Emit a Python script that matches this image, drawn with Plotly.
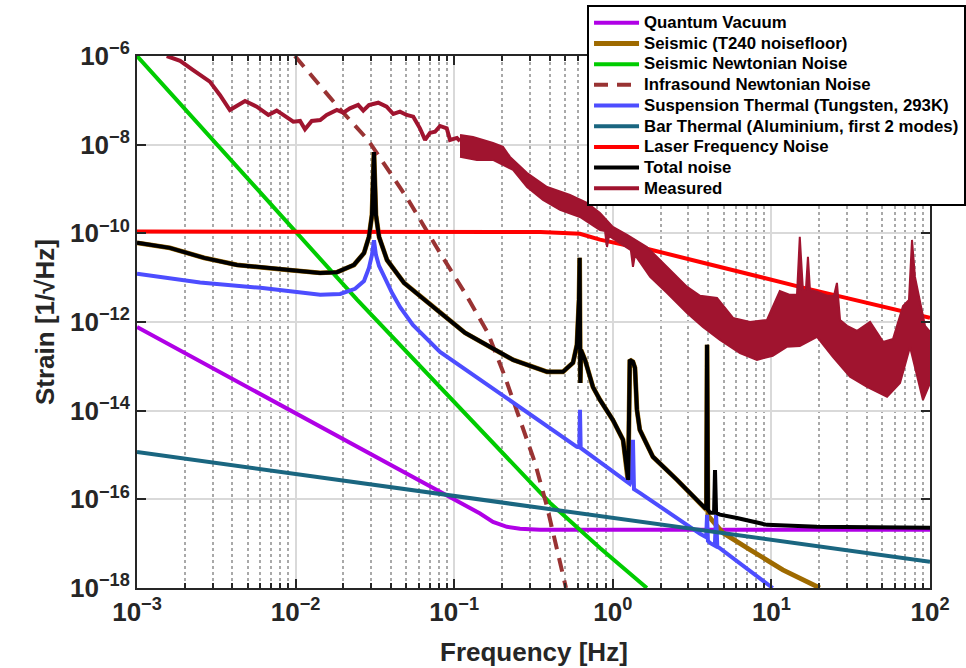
import plotly.graph_objects as go

# ---------------- data ----------------
qv_f = [1e-3, 0.12, 0.1455, 0.1756, 0.215, 0.26, 0.3475, 100]
qv_h = [7.7e-13, 6.8e-17, 4.8e-17, 3.11e-17, 2.4e-17, 2.16e-17, 2.05e-17, 2.05e-17]

seis_f = [1e-3, 1.61e-3, 2.65e-3, 4.27e-3, 8.83e-3, 1.426e-2, 1.824e-2, 2.334e-2, 2.70e-2, 2.90e-2,
          3.03e-2, 3.12e-2, 3.21e-2, 3.36e-2, 3.77e-2, 4.83e-2, 7.79e-2, 0.117, 0.235, 0.385,
          0.485, 0.561, 0.594, 0.612, 0.618, 0.624, 0.630, 0.668, 0.750, 0.83,
          1.0, 1.16, 1.21, 1.25, 1.28, 1.34, 1.38, 1.42, 1.48, 1.79,
          2.54, 3.55, 3.81, 3.89, 3.93, 3.98, 4.10, 4.95, 7.33, 11.8, 20.2]
seis_h = [6.1e-11, 4.7e-11, 2.8e-11, 1.94e-11, 1.5e-11, 1.28e-11, 1.33e-11, 1.94e-11, 3.6e-11, 8.3e-11,
          2.6e-10, 6.8e-9, 2.6e-10, 8.3e-11, 2.5e-11, 7.6e-12, 1.87e-12, 5.7e-13, 1.4e-13, 7.5e-14,
          7.5e-14, 1.2e-13, 3.05e-13, 3.15e-12, 2.8e-11, 4.2e-14, 2.35e-13, 1.4e-13, 3.4e-14, 1.75e-14,
          6.2e-15, 2.2e-15, 7.8e-16, 2.4e-16, 1.4e-13, 1.26e-13, 9.2e-14, 1.04e-14, 3.7e-15, 9.1e-16,
          2.75e-16, 8.3e-17, 6.0e-17, 5.8e-17, 3.05e-13, 4.2e-17, 3.8e-17, 1.76e-17, 7.3e-18, 2.57e-18, 1.0e-18]

snn_f = [1e-3, 0.0244, 0.402, 0.83, 1.64]
snn_h = [1e-6, 3.2e-12, 8.3e-17, 8.0e-18, 1.0e-18]

inf_f = [0.0099, 0.0185, 0.0286, 0.0504, 0.0814, 0.117, 0.163, 0.209, 0.26, 0.323, 0.385, 0.445, 0.507]
inf_h = [1.0e-6, 7.1e-8, 1.28e-8, 6.3e-10, 3.6e-11, 4.5e-12, 5.7e-13, 5.8e-14, 6.2e-15, 6.7e-16,
         6.8e-17, 7.3e-18, 1.0e-18]

susp_f = [1e-3, 2.5e-3, 6.0e-3, 1.43e-2, 1.91e-2, 2.37e-2, 2.70e-2, 2.90e-2, 3.03e-2, 3.12e-2,
          3.21e-2, 3.36e-2, 3.61e-2, 4.06e-2, 4.55e-2, 5.49e-2, 8.14e-2, 0.235, 0.594, 0.615,
          0.621, 0.627, 1.28, 1.32, 1.34, 1.36, 1.48, 3.55, 3.81, 3.88,
          3.93, 3.98, 4.10, 4.40, 4.48, 4.56, 4.68, 10.2]
susp_h = [1.22e-11, 7.8e-12, 5.9e-12, 4.1e-12, 4.3e-12, 5.6e-12, 8.4e-12, 1.66e-11, 3.26e-11, 7.0e-11,
          3.26e-11, 1.84e-11, 1.09e-11, 4.5e-12, 2.19e-12, 8.6e-13, 2.12e-13, 1.5e-14, 1.53e-15, 1.5e-15,
          1.04e-14, 1.45e-15, 2.24e-16, 3.0e-16, 2.2e-15, 1.7e-16, 1.4e-16, 1.67e-17, 1.43e-17, 1.4e-17,
          4.5e-17, 1.15e-17, 1.04e-17, 9.0e-18, 4.5e-17, 8.5e-18, 8.1e-18, 1.0e-18]

bar_f = [1e-3, 100]
bar_h = [1.17e-15, 3.9e-18]

laser_f = [1e-3, 0.1, 0.35, 0.62, 0.83, 1.34, 1.64, 3.55, 15.1, 100]
laser_h = [1.1e-10, 1.1e-10, 1.07e-10, 9.8e-11, 7.2e-11, 5.0e-11, 4.5e-11, 2.26e-11, 6.2e-12, 1.24e-12]

tot_f = [1e-3, 1.61e-3, 2.65e-3, 4.27e-3, 8.83e-3, 1.426e-2, 1.824e-2, 2.334e-2, 2.70e-2, 2.90e-2,
         3.03e-2, 3.12e-2, 3.21e-2, 3.36e-2, 3.77e-2, 4.83e-2, 7.79e-2, 0.117, 0.235, 0.385,
         0.485, 0.561, 0.594, 0.612, 0.618, 0.624, 0.630, 0.668, 0.750, 0.83,
         1.0, 1.16, 1.21, 1.25, 1.28, 1.34, 1.38, 1.42, 1.48, 1.79,
         2.54, 3.55, 3.81, 3.89, 3.93, 3.98, 4.10, 4.35, 4.41, 4.48,
         4.74, 6.07, 9.38, 19.4, 100]
tot_h = [6.1e-11, 4.7e-11, 2.8e-11, 1.94e-11, 1.5e-11, 1.28e-11, 1.33e-11, 1.94e-11, 3.6e-11, 8.3e-11,
         2.6e-10, 6.8e-9, 2.6e-10, 8.3e-11, 2.5e-11, 7.6e-12, 1.87e-12, 5.7e-13, 1.4e-13, 7.5e-14,
         7.5e-14, 1.2e-13, 3.05e-13, 3.15e-12, 2.8e-11, 4.2e-14, 2.35e-13, 1.4e-13, 3.4e-14, 1.75e-14,
         6.2e-15, 2.2e-15, 7.8e-16, 2.75e-16, 1.4e-13, 1.26e-13, 9.2e-14, 1.04e-14, 3.7e-15, 9.1e-16,
         2.75e-16, 8.3e-17, 6.4e-17, 6.4e-17, 3.05e-13, 5.8e-17, 5.0e-17, 5.0e-17, 4.6e-16, 5.0e-17,
         4.5e-17, 3.8e-17, 2.66e-17, 2.4e-17, 2.28e-17]

meas_f = [1.54e-3, 1.87e-3, 2.26e-3, 2.88e-3, 3.33e-3, 3.85e-3, 4.80e-3, 5.69e-3, 6.73e-3, 7.60e-3,
          8.36e-3, 9.67e-3, 1.067e-2, 1.146e-2, 1.264e-2, 1.43e-2, 1.57e-2, 1.82e-2, 2.0e-2, 2.2e-2,
          2.48e-2, 2.67e-2, 2.90e-2, 3.32e-2, 3.75e-2, 4.13e-2, 4.55e-2, 5.01e-2, 5.52e-2, 6.08e-2,
          6.55e-2, 7.03e-2, 7.57e-2, 8.14e-2, 8.97e-2, 9.41e-2, 0.104, 0.1088]
meas_h = [1.0e-6, 7.8e-7, 4.8e-7, 2.64e-7, 1.32e-7, 6.05e-8, 9.7e-8, 7.2e-8, 4.68e-8, 5.85e-8,
          4.68e-8, 3.3e-8, 3.42e-8, 2.22e-8, 3.42e-8, 3.6e-8, 4.68e-8, 6.05e-8, 5.27e-8, 6.6e-8,
          7.85e-8, 5.85e-8, 7.85e-8, 8.85e-8, 7.2e-8, 4.92e-8, 5.55e-8, 4.68e-8, 4.28e-8, 2.34e-8,
          1.28e-8, 1.84e-8, 1.96e-8, 2.64e-8, 2.34e-8, 1.28e-8, 1.42e-8, 1.2e-8]

# noisy band of the measured spectrum above ~0.1 Hz: upper and lower envelopes
band_up_f = [0.1088, 0.1314, 0.1756, 0.203, 0.2248, 0.288, 0.385, 0.537, 0.687, 0.83,
             1.0, 1.23, 1.64, 2.2, 2.94, 3.55, 4.54, 5.73, 7.33, 9.38,
             11.3, 13.1, 14.5, 15.1, 15.8, 16.5, 17.0, 17.5, 19.4, 22.4,
             24.8, 25.9, 27.1, 30.0, 34.7, 41.9, 50.6, 58.5, 67.6, 73.7,
             77.0, 80.4, 93.0, 100]
band_up_h = [1.66e-8, 1.49e-8, 1.09e-8, 8.9e-9, 5.3e-9, 2.3e-9, 1.11e-9, 7.35e-10, 4.84e-10, 2.88e-10,
             1.39e-10, 9.2e-11, 4.93e-11, 1.75e-11, 6.2e-12, 3.9e-12, 3.5e-12, 1.24e-12, 1.0e-12, 1.11e-12,
             5.0e-12, 4.1e-12, 4.1e-12, 8.3e-11, 5.3e-12, 5.3e-12, 2.94e-11, 5.3e-12, 4.8e-12, 3.9e-12,
             3.9e-12, 7.6e-12, 1.11e-12, 8.2e-13, 6.3e-13, 1.0e-12, 3.56e-13, 4.16e-13, 2.3e-12, 3.15e-12,
             7.1e-11, 1.04e-11, 8.2e-13, 6.0e-13]
band_lo_f = [0.1088, 0.139, 0.1756, 0.235, 0.288, 0.363, 0.465, 0.621, 0.83, 0.893,
             0.919, 0.946, 1.11, 1.30, 1.34, 1.38, 1.72, 2.2, 2.94, 3.70,
             4.74, 6.34, 8.11, 10.2, 12.5, 15.1, 19.4, 24.4, 31.3, 40.1,
             53.6, 64.7, 74.8, 82.8, 90.3, 100]
band_lo_h = [5.3e-9, 4.52e-9, 4.52e-9, 2.69e-9, 1.11e-9, 5.66e-10, 3.37e-10, 2.34e-10, 1.19e-10, 1.13e-10,
             4.93e-11, 8.7e-11, 6.1e-11, 4.2e-11, 1.75e-11, 3.26e-11, 1.04e-11, 4.5e-12, 1.6e-12, 7.7e-13,
             3.95e-13, 2.0e-13, 1.4e-13, 1.72e-13, 2.75e-13, 2.89e-13, 4.6e-13, 1.63e-13, 5.8e-14, 3.44e-14,
             2.05e-14, 4.2e-14, 2.75e-13, 5.8e-14, 1.75e-14, 4.2e-14]

x_ticks = [1e-3, 1e-2, 1e-1, 1e0, 1e1, 1e2]
x_ticktext = ['10<sup>\u22123</sup>', '10<sup>\u22122</sup>', '10<sup>\u22121</sup>', '10<sup>0</sup>',
              '10<sup>1</sup>', '10<sup>2</sup>']
y_ticks = [1e-18, 1e-16, 1e-14, 1e-12, 1e-10, 1e-8, 1e-6]
y_ticktext = ['10<sup>\u221218</sup>', '10<sup>\u221216</sup>', '10<sup>\u221214</sup>',
              '10<sup>\u221212</sup>', '10<sup>\u221210</sup>', '10<sup>\u22128</sup>',
              '10<sup>\u22126</sup>']
x_minor = [k * 10.0 ** e for e in range(-3, 2) for k in range(2, 10)]

# ---------------- figure ----------------
FONT = 'Liberation Sans, Arial, Helvetica, sans-serif'
AX = '#262626'
MEAS = '#a0142f'
LW = 4

fig = go.Figure()


def lname(s):
    return '<span style="font-size:16.8px">' + s + '</span>'


def line(f, h, name, color, width=LW, dash=None, showlegend=True):
    fig.add_trace(go.Scatter(x=f, y=h, mode='lines', name=lname(name), showlegend=showlegend,
                             line=dict(color=color, width=width, dash=dash)))


line(qv_f, qv_h, 'Quantum Vacuum', '#b000e6')
line(seis_f, seis_h, 'Seismic (T240 noisefloor)', '#9e6a00', width=4.8)
line(snn_f, snn_h, 'Seismic Newtonian Noise', '#00cc00')
line(inf_f, inf_h, 'Infrasound Newtonian Noise', '#993333', dash='14px,9px')
line(susp_f, susp_h, 'Suspension Thermal (Tungsten, 293K)', '#4d4dff')
line(bar_f, bar_h, 'Bar Thermal (Aluminium, first 2 modes)', '#1a6680')
line(laser_f, laser_h, 'Laser Frequency Noise', '#ff0000')
line(tot_f, tot_h, 'Total noise', '#000000')
line(meas_f, meas_h, 'Measured', MEAS)
fig.add_trace(go.Scatter(x=band_up_f + band_lo_f[::-1], y=band_up_h + band_lo_h[::-1],
                         mode='lines', fill='toself', fillcolor=MEAS, showlegend=False,
                         line=dict(color=MEAS, width=2), hoverinfo='skip'))

axis_common = dict(
    type='log', showline=True, linewidth=2, linecolor=AX, mirror='ticks',
    ticks='inside', ticklen=9, tickwidth=2, tickcolor=AX,
    showgrid=True, gridcolor='#d9d9d9', gridwidth=1.8,
    tickfont=dict(family=FONT, size=26, color=AX, weight='bold'),
)

fig.update_layout(
    width=966, height=668,
    margin=dict(l=137, r=36, t=56, b=80, autoexpand=False),
    paper_bgcolor='white', plot_bgcolor='white',
    xaxis=dict(range=[-3, 2], tickvals=x_ticks, ticktext=x_ticktext,
               minor=dict(tickvals=x_minor, ticks='inside', ticklen=5, tickwidth=1.5,
                          tickcolor=AX, showgrid=True, gridcolor='#a9a9a9',
                          griddash='dot', gridwidth=1.5),
               **axis_common),
    yaxis=dict(range=[-18, -6], tickvals=y_ticks, ticktext=y_ticktext, **axis_common),
    legend=dict(x=0.5675, y=1.095, xanchor='left', yanchor='top',
                bgcolor='white', bordercolor='#000000', borderwidth=2,
                font=dict(family=FONT, size=13.6, color='#000000', weight='bold'),
                itemwidth=45, tracegroupgap=0, traceorder='normal'),
    annotations=[
        dict(text='Frequency [Hz]', x=0.5, y=-0.12, xref='paper', yref='paper',
             xanchor='center', yanchor='middle', showarrow=False,
             font=dict(family=FONT, size=26, color=AX, weight='bold')),
        dict(text='Strain [1/\u221aHz]', x=-0.116, y=0.5, xref='paper', yref='paper',
             xanchor='center', yanchor='middle', showarrow=False, textangle=-90,
             font=dict(family=FONT, size=26, color=AX, weight='bold')),
    ],
    showlegend=True,
)

# the page body margin is removed so the 966x668 figure fills the window exactly
fig.write_html('out.html', config={'displayModeBar': False},
               post_script="document.body.style.margin='0';")
